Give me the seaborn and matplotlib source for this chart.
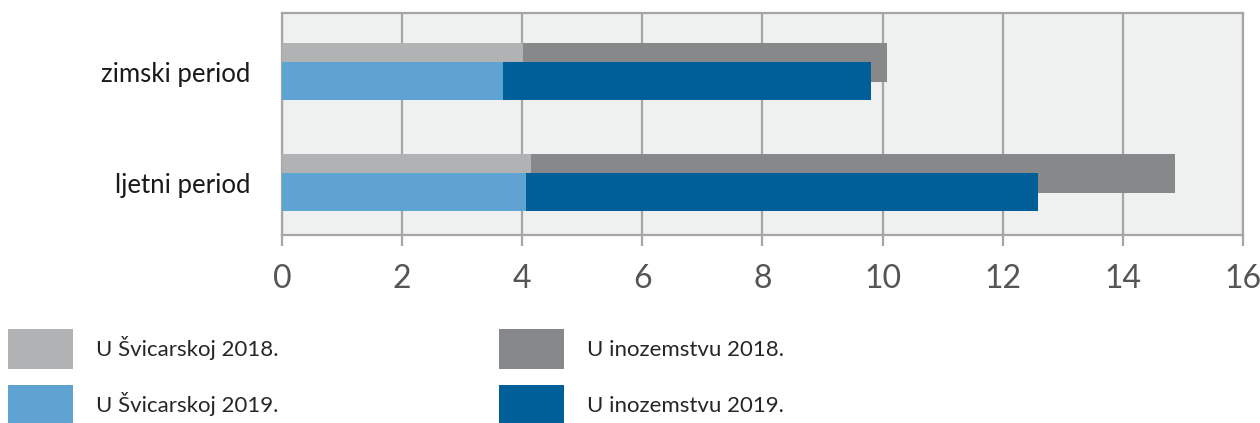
import numpy as np
import seaborn as sns
import matplotlib.pyplot as plt
from matplotlib.patches import Patch

# data (days)
periods = ['zimski period', 'ljetni period']
ch_2018 = [4.01, 4.15]
abroad_2018 = [6.06, 10.72]
ch_2019 = [3.68, 4.07]
abroad_2019 = [6.13, 8.52]
xticks = [0, 2, 4, 6, 8, 10, 12, 14, 16]

labels = ['U Švicarskoj 2018.', 'U Švicarskoj 2019.', 'U inozemstvu 2018.', 'U inozemstvu 2019.']
colors = ['#b1b2b4', '#5fa3d3', '#87888a', '#005f99']

sns.set_style('white')
plt.rcParams['font.family'] = ['Lato', 'DejaVu Sans']

fig = plt.figure(figsize=(12.6, 4.23), dpi=100)
ax = fig.add_axes([0.2238, 0.4444, 0.7627, 0.5249])
ax.set_facecolor('#eff0f0')

pos = np.arange(len(periods))
off = 0.085
h = 0.345
tot_2018 = np.array(ch_2018) + np.array(abroad_2018)
tot_2019 = np.array(ch_2019) + np.array(abroad_2019)

# 2018 bar behind, 2019 bar in front (overlapping)
for vals, dy, col in [(tot_2018, -off, colors[2]), (ch_2018, -off, colors[0]),
                      (tot_2019, off, colors[3]), (ch_2019, off, colors[1])]:
    sns.barplot(x=vals, y=pos + dy, orient='y', native_scale=True, width=h,
                color=col, saturation=1, linewidth=0, ax=ax, zorder=3)

ax.set_xlim(0, 16)
ax.set_ylim(1.47, -0.53)
ax.set_xticks(xticks)
ax.set_xticklabels([str(t) for t in xticks], fontsize=23, color='#555555')
ax.set_yticks(pos)
ax.set_yticklabels(periods, fontsize=18.5, color='#1a1a1a')
ax.set_xlabel('')
ax.set_ylabel('')
ax.grid(axis='x', color='#a6a6a6', linewidth=1.6, zorder=1)
ax.set_axisbelow(True)
ax.tick_params(axis='x', length=8, width=1.6, color='#a6a6a6', pad=13, bottom=True)
ax.tick_params(axis='y', length=0, pad=23)
for s in ax.spines.values():
    s.set_color('#a6a6a6')
    s.set_linewidth(1.6)
    s.set_visible(True)

handles = [Patch(facecolor=c, edgecolor='none') for c in colors]
fig.legend(handles, labels, ncol=2, loc='upper left',
           bbox_to_anchor=(8 / 1260, 1 - 329 / 423), frameon=False,
           fontsize=16, handlelength=2.93, handleheight=2.39, handletextpad=1.04,
           labelspacing=0.72, columnspacing=9.9, borderpad=0, borderaxespad=0)

fig.savefig('out.png', dpi=100)
